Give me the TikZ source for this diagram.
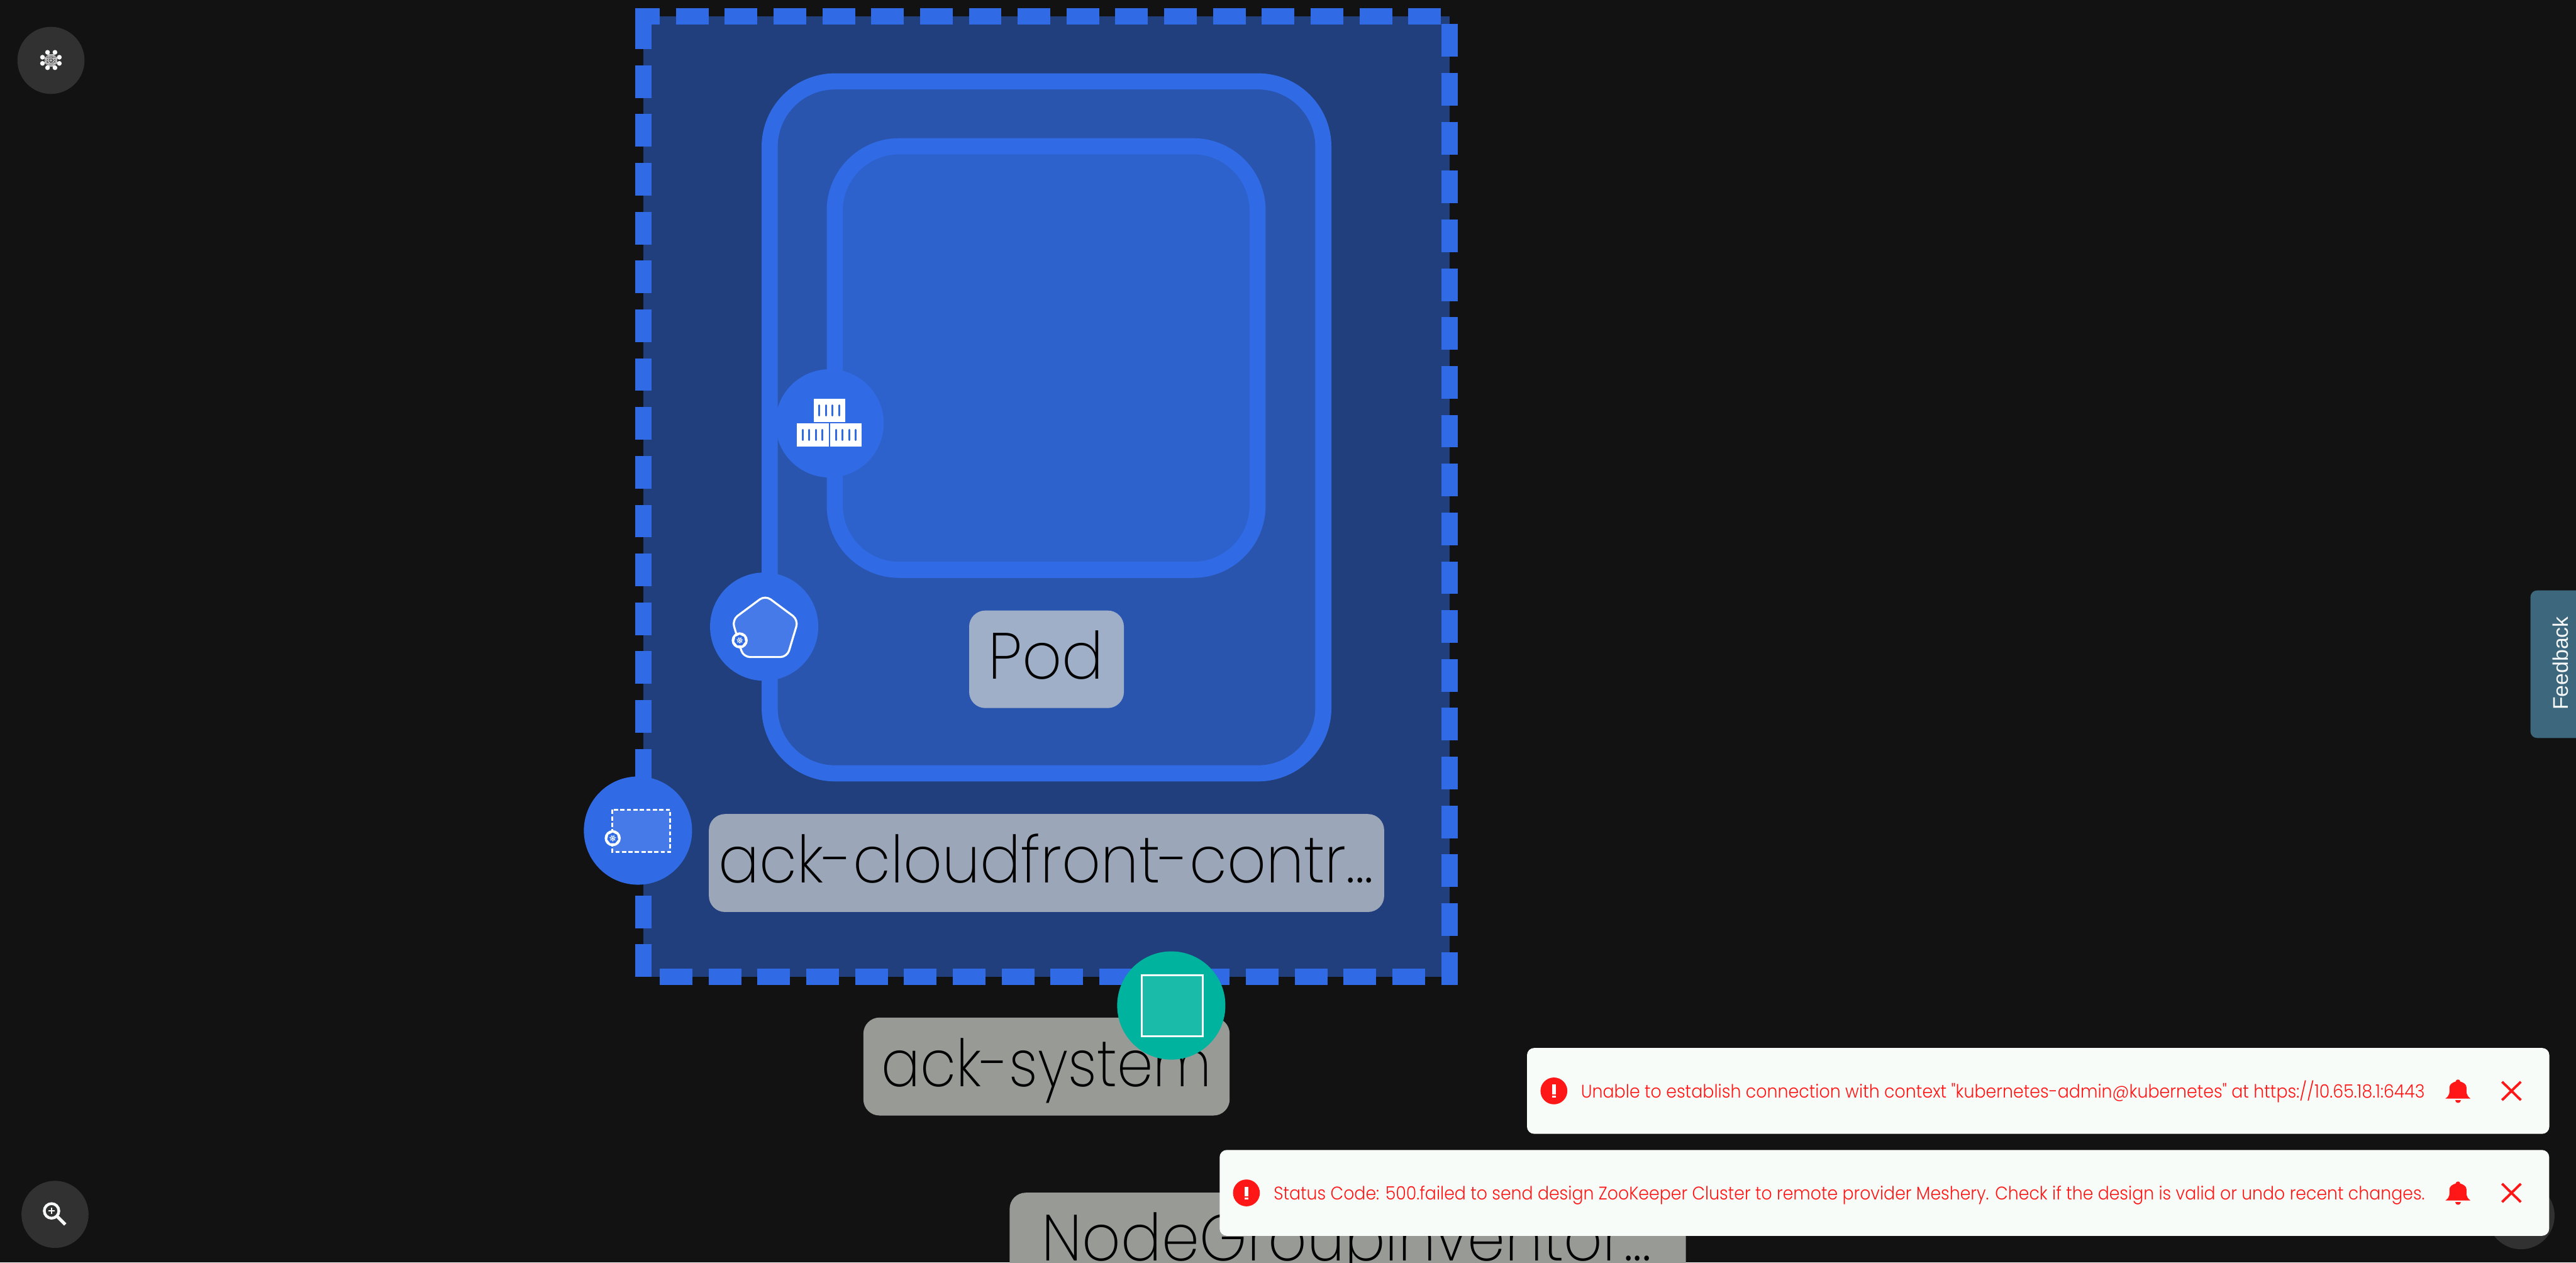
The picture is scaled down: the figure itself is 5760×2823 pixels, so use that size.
\documentclass[tikz,border=0pt]{standalone}
\usepackage{fontspec}
\usepackage{graphicx}
\usetikzlibrary{shapes.geometric}
\setmainfont{Liberation Sans}
\newfontfamily\lblfont{Poppins ExtraLight}
\newfontfamily\msgfont{Poppins Light}
\newsavebox\fitbox
\newcommand\fitw[2]{\sbox\fitbox{#2}\pgfmathsetmacro\fitf{#1/\wd\fitbox}\scalebox{\fitf}[1]{\usebox\fitbox}}
\definecolor{bgc}{HTML}{121212}
\definecolor{strokeblue}{HTML}{306BE5}
\definecolor{outerfill}{HTML}{213F7C}
\definecolor{podfill}{HTML}{2A55AF}
\definecolor{ctrfill}{HTML}{2D62CC}
\definecolor{iconfill}{HTML}{457AE8}
\definecolor{teal}{HTML}{00B39F}
\definecolor{tealfill}{HTML}{1ABCA9}
\definecolor{lblpod}{HTML}{A0AFC8}
\definecolor{lblcloud}{HTML}{9BA7B9}
\definecolor{lblgray}{HTML}{989A96}
\definecolor{toastbg}{HTML}{F7FCF8}
\definecolor{toastred}{HTML}{FF1717}
\definecolor{toolgray}{HTML}{313131}
\definecolor{feedbg}{HTML}{3D677C}
\definecolor{iconwhite}{HTML}{F7F9F8}
\tikzset{
  band/.style={draw=strokeblue,line width=3.6pt,rounded corners=14.6pt},
  dashline/.style={draw=strokeblue,line width=3.65pt,dash pattern=on 7.3pt off 3.62pt},
  disc/.style={circle,fill=strokeblue,minimum size=24.2pt,inner sep=0pt},
  tag/.style={rectangle,rounded corners=3.6pt,inner sep=0pt},
  nametext/.style={anchor=base west,inner sep=0pt,text=black,font=\lblfont\fontsize{14.6pt}{14.6pt}\selectfont},
  toast/.style={rectangle,fill=toastbg,rounded corners=1.6pt,inner sep=0pt},
  toasttext/.style={anchor=base west,inner sep=0pt,text=toastred,font=\msgfont\fontsize{4.1pt}{4.1pt}\selectfont},
  tool/.style={circle,fill=toolgray,minimum size=15pt,inner sep=0pt},
  erricon/.style={circle,fill=toastred,minimum size=6pt,inner sep=0pt},
  stripe/.style={draw=strokeblue,line width=.42pt,line cap=round},
  badge/.style={circle,fill=white,minimum size=3.6pt,inner sep=0pt},
  badgecore/.style={regular polygon,regular polygon sides=7,fill=strokeblue,minimum size=2.5pt,inner sep=0pt},
  wheel/.style={draw=white,line width=.1pt},
  boxicon/.style={rectangle,fill=white,inner sep=0pt,minimum width=7.1pt,minimum height=5.1pt}
}
\newcommand\kwheel[1]{%
  \draw[wheel] (#1.center) circle (5);
  \foreach \a in {90,141,193,244,296,347,39}{\draw[wheel] (#1.center) -- ++(\a:7.5);}
}
\begin{document}
\begin{tikzpicture}[x=0.1pt,y=-0.1pt]
\useasboundingbox (0,0) rectangle (5760,2823);
\clip (0,0) rectangle (5760,2823);
\fill[bgc] (0,0) rectangle (5760,2823);

% namespace box
\fill[outerfill] (1439,36) rectangle (3241,2184);
\coordinate (nsTL) at (1420.7,36); \coordinate (nsTR) at (3223,36);
\coordinate (nsRT) at (3241,54);   \coordinate (nsRB) at (3241,2202.7);
\coordinate (nsBR) at (3186.3,2184); \coordinate (nsBL) at (1475,2184);
\coordinate (nsLB) at (1439,2184.3); \coordinate (nsLT) at (1439,36);
\draw[dashline,dash phase=1.87pt] (nsTL) -- (nsTR);
\draw[dashline] (nsRT) -- (nsRB);
\draw[dashline] (nsBR) -- (nsBL);
\draw[dashline] (nsLB) -- (nsLT);

% deployment and pod frames
\draw[band,fill=podfill] (1721,182) rectangle (2959,1729);
\draw[band,fill=ctrfill,rounded corners=14.4pt] (1866.5,327) rectangle (2812,1274);

% name tags
\node[tag,fill=lblpod,minimum width=34.6pt,minimum height=21.8pt] (podtag) at (2340,1474) {};
\node[nametext] (podname) at (2208,1518) {\fitw{25.8}{Pod}};
\node[tag,fill=lblcloud,minimum width=151pt,minimum height=21.9pt] (cloudtag) at (2340,1929.5) {};
\node[nametext] (cloudname) at (1605,1973) {\fitw{146.4}{ack-cloudfront-contr...}};
\node[tag,fill=lblgray,minimum width=81.9pt,minimum height=21.9pt] (systag) at (2340,2384.5) {};
\node[nametext] (sysname) at (1969,2429) {\fitw{73.8}{ack-system}};
\node[tag,fill=lblgray,minimum width=151.2pt,minimum height=21.9pt] (inventag) at (3013.5,2776) {};
\node[nametext] (invenname) at (2328,2819) {\fitw{136.2}{NodeGroupInventor...}};

% container icon
\node[disc] (ctrdisc) at (1855,946.5) {};
\node[boxicon] (ctrtop) at (1854.5,917.5) {};
\node[boxicon] (ctrleft) at (1817.5,972.5) {};
\node[boxicon] (ctrright) at (1891.5,972.5) {};
\foreach \p in {1832.1,1846.9,1861.7,1876.5}{\draw[stripe] (\p,906) -- (\p,929);}
\foreach \p in {1794.9,1809.7,1824.5,1839.3,1869.4,1884.2,1899,1913.8}{\draw[stripe] (\p,961) -- (\p,984);}

% pod icon
\node[disc] (poddisc) at (1708.7,1401) {};
\draw[draw=white,fill=iconfill,line width=.45pt,rounded corners=1.5pt,line join=round]
  (1711,1331) -- (1785,1386) -- (1760,1469) -- (1662,1469) -- (1637,1386) -- cycle;
\node[badge] (podbadge) at (1654,1431.7) {};
\node[badgecore] (podcore) at (1654,1431.7) {};
\kwheel{podcore}

% deployment icon
\node[disc] (depdisc) at (1426.5,1857) {};
\draw[draw=white,fill=iconfill,line width=.42pt,dash pattern=on .95pt off .5pt] (1369,1810.5) rectangle (1498.5,1905);
\node[badge] (depbadge) at (1370,1874) {};
\node[badgecore] (depcore) at (1370,1874) {};
\kwheel{depcore}

% namespace icon
\node[circle,fill=teal,minimum size=24.2pt,inner sep=0pt] (nsdisc) at (2619,2248) {};
\node[rectangle,draw=white,fill=tealfill,line width=.42pt,minimum width=13.7pt,minimum height=13.7pt,inner sep=0pt] (nssquare) at (2621,2248.5) {};

% tools
\node[tool] (toollogo) at (114,135) {};
\foreach \a in {22.5,67.5,...,337.5}{\foreach \b in {22.5,67.5,...,337.5}{
  \draw[iconwhite!75!toolgray,line width=.05pt] ([shift={(\a:14.5)}]toollogo.center) -- ([shift={(\b:14.5)}]toollogo.center);}}
\foreach \dx/\dy in {-7.7/-18,8.9/-18,-19/-7,18.7/-7,-19/6.7,18.7/6.7,-7.7/16.4,8.9/16.4}{
  \fill[iconwhite] ([shift={(\dx,\dy)}]toollogo.center) circle (5.3);}
\node[tool] (toolzoom) at (123,2715) {};
\coordinate (lens) at (115.3,2707.3);
\draw[iconwhite,line width=.62pt] (lens) circle (16.3);
\draw[iconwhite,line width=.32pt] ([xshift=-.7pt]lens) -- ([xshift=.7pt]lens);
\draw[iconwhite,line width=.32pt] ([yshift=-.7pt]lens) -- ([yshift=.7pt]lens);
\coordinate (handleA) at (129,2720.7); \coordinate (handleB) at (146,2737.7);
\draw[iconwhite,line width=.7pt] (handleA) -- (handleB);
\node[tool] (toolhelp) at (5637,2718) {};

% feedback
\fill[feedbg,rounded corners=1.5pt] (5658,1320) rectangle (5800,1650);
\node[rotate=90,text=iconwhite,font=\fontsize{4.75pt}{4.75pt}\selectfont,inner sep=0pt,anchor=base] (feedback) at (5742.7,1483) {Feedback};

% toasts
\node[toast,minimum width=228.6pt,minimum height=19.2pt] (toastA) at (4557.3,2439) {};
\node[toasttext] (toastAtext) at (3533,2454) {\fitw{188.7}{Unable to establish connection with context "kubernetes-admin@kubernetes" at https://10.65.18.1:6443}};
\node[erricon] (errA) at (3474.5,2439) {};
\fill[white] (3470.5,2425) rectangle (3478.5,2447);
\fill[white] (3470.5,2449) rectangle (3478.5,2454);
\node[toast,minimum width=297.3pt,minimum height=19.2pt] (toastB) at (4213.5,2667) {};
\node[toasttext] (toastBtext) at (2846,2682) {\fitw{257.4}{Status Code: 500.failed to send design ZooKeeper Cluster to remote provider Meshery. Check if the design is valid or undo recent changes.}};
\node[erricon] (errB) at (2787,2667) {};
\fill[white] (2783,2653) rectangle (2791,2675);
\fill[white] (2783,2677) rectangle (2791,2682);

% bells and closers
\foreach \cy in {2439,2667}{
  \fill[toastred] (5468,\cy+17) .. controls (5479,\cy+9) and (5477,\cy+2) .. (5477,\cy-8)
    .. controls (5477,\cy-15) and (5484,\cy-19) .. (5491,\cy-21)
    .. controls (5491,\cy-27) and (5501,\cy-27) .. (5501,\cy-21)
    .. controls (5508,\cy-19) and (5515,\cy-15) .. (5515,\cy-8)
    .. controls (5515,\cy+2) and (5513,\cy+9) .. (5524,\cy+17) -- cycle;
  \fill[toastred] (5490,\cy+21) -- (5502,\cy+21) .. controls (5502,\cy+29) and (5490,\cy+29) .. (5490,\cy+21) -- cycle;
  \draw[toastred,line width=.55pt] (5594.6,\cy-20.5) -- (5636.6,\cy+20.5);
  \draw[toastred,line width=.55pt] (5636.6,\cy-20.5) -- (5594.6,\cy+20.5);
}
\end{tikzpicture}
\end{document}
